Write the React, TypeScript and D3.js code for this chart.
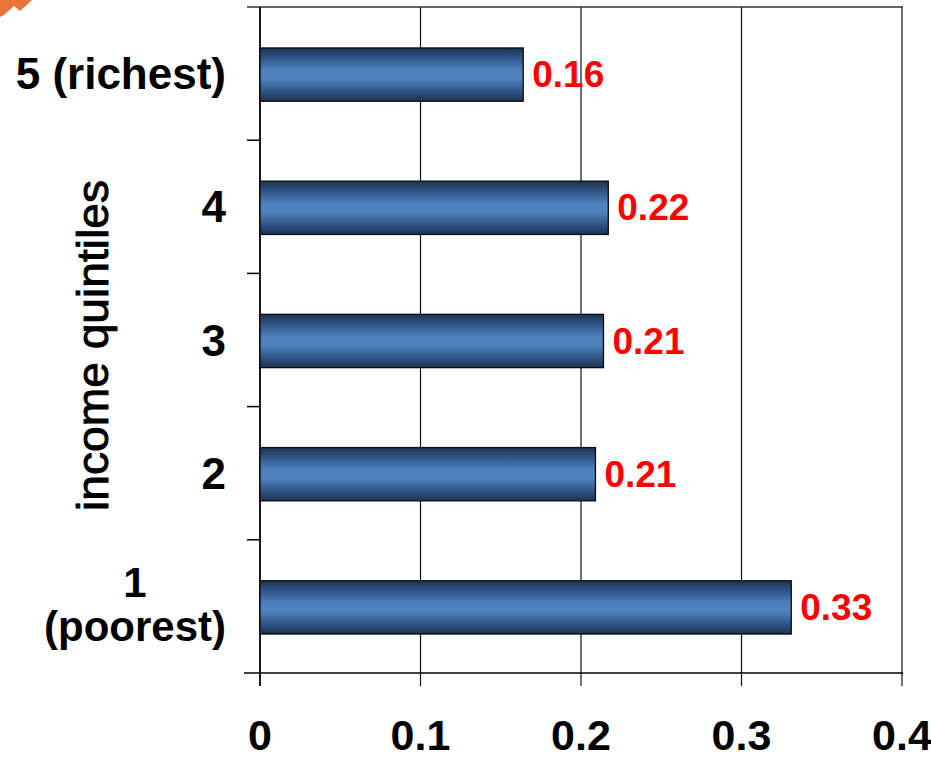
import React, { useEffect, useRef } from "react";
import * as d3 from "d3";

const categories = ["1\n(poorest)", "2", "3", "4", "5 (richest)"];
const values = [0.331, 0.209, 0.214, 0.217, 0.164];
const valueLabels = ["0.33", "0.21", "0.21", "0.22", "0.16"];
const xTicks = [0, 0.1, 0.2, 0.3, 0.4];
const xTickLabels = ["0", "0.1", "0.2", "0.3", "0.4"];
const yTitle = "income quintiles";

const W = 931;
const H = 760;
const FONT = "'Liberation Sans', Arial, sans-serif";

export default function App() {
  const ref = useRef<SVGSVGElement | null>(null);

  useEffect(() => {
    const svg = d3.select(ref.current);
    svg.selectAll("*").remove();

    const left = 260, right = 902, top = 7, bottom = 673;
    const x = d3.scaleLinear().domain([0, 0.4]).range([left, right]);
    const y = d3
      .scaleBand<string>()
      .domain([...categories].reverse())
      .range([top, bottom])
      .padding(0);

    const defs = svg.append("defs");
    const grad = defs
      .append("linearGradient")
      .attr("id", "barGrad")
      .attr("x1", 0).attr("y1", 0).attr("x2", 0).attr("y2", 1);
    [
      [0, "#1d3251"],
      [0.18, "#2f5485"],
      [0.42, "#4f81bd"],
      [0.58, "#4f81bd"],
      [0.82, "#2f5485"],
      [1, "#1d3251"],
    ].forEach(([o, c]) =>
      grad.append("stop").attr("offset", o as number).attr("stop-color", c as string)
    );

    // orange corner decoration
    svg
      .append("path")
      .attr("d", "M0,0 L32,0 L20,11 L14,6 L4,15 L0,17 Z")
      .attr("fill", "#e8743b");

    // gridlines (including right border)
    svg
      .append("g")
      .selectAll("line")
      .data(xTicks.slice(1))
      .join("line")
      .attr("x1", (d) => x(d))
      .attr("x2", (d) => x(d))
      .attr("y1", top)
      .attr("y2", bottom + 13)
      .attr("stroke", "#111")
      .attr("stroke-width", 1.2);

    // top border
    svg
      .append("line")
      .attr("x1", left - 13).attr("x2", right + 1)
      .attr("y1", top).attr("y2", top)
      .attr("stroke", "#333").attr("stroke-width", 1.5);

    // left axis
    svg
      .append("line")
      .attr("x1", left).attr("x2", left)
      .attr("y1", top).attr("y2", bottom + 13)
      .attr("stroke", "#000").attr("stroke-width", 1.8);
    const boundaries = [...categories].reverse().map((c) => y(c) as number).slice(1);
    svg
      .append("g")
      .selectAll("line")
      .data(boundaries)
      .join("line")
      .attr("x1", left - 13).attr("x2", left)
      .attr("y1", (d) => d).attr("y2", (d) => d)
      .attr("stroke", "#000").attr("stroke-width", 1.5);

    // bottom axis
    svg
      .append("line")
      .attr("x1", left - 16).attr("x2", right + 1)
      .attr("y1", bottom).attr("y2", bottom)
      .attr("stroke", "#000").attr("stroke-width", 1.5);

    // bars
    const bh = y.bandwidth() * 0.4;
    svg
      .append("g")
      .selectAll("rect")
      .data(categories)
      .join("rect")
      .attr("x", x(0))
      .attr("y", (d) => (y(d) as number) + y.bandwidth() / 2 - bh / 2 + 1)
      .attr("width", (d, i) => x(values[i]) - x(0))
      .attr("height", bh)
      .attr("fill", "url(#barGrad)")
      .attr("stroke", "#0a0a0a")
      .attr("stroke-width", 1.3);

    // value labels
    svg
      .append("g")
      .selectAll("text")
      .data(categories)
      .join("text")
      .attr("x", (d, i) => x(values[i]) + 9)
      .attr("y", (d) => (y(d) as number) + y.bandwidth() / 2 + 1)
      .attr("dominant-baseline", "central")
      .attr("font-family", FONT)
      .attr("font-weight", "bold")
      .attr("font-size", 37)
      .attr("fill", "#ff0000")
      .text((d, i) => valueLabels[i]);

    // x tick labels
    svg
      .append("g")
      .selectAll("text")
      .data(xTicks)
      .join("text")
      .attr("x", (d) => x(d))
      .attr("y", 735)
      .attr("text-anchor", "middle")
      .attr("dominant-baseline", "central")
      .attr("font-family", FONT)
      .attr("font-weight", "bold")
      .attr("font-size", 43)
      .attr("fill", "#000")
      .text((d, i) => xTickLabels[i]);

    // category labels
    const labelRight = 226;
    categories.forEach((c) => {
      const lines = c.split("\n");
      const cy = (y(c) as number) + y.bandwidth() / 2;
      const lh = 44;
      const g = svg.append("g");
      const texts = lines.map((ln, k) =>
        g
          .append("text")
          .attr("y", cy + (k - (lines.length - 1) / 2) * lh - (lines.length > 1 ? 2 : 0))
          .attr("dominant-baseline", "central")
          .attr("font-family", FONT)
          .attr("font-weight", "bold")
          .attr("font-size", lines.length > 1 ? 42 : 44)
          .attr("fill", "#000")
          .text(ln)
      );
      const widths = texts.map((t) => (t.node() as SVGTextElement).getComputedTextLength());
      const maxW = Math.max(...widths);
      texts.forEach((t) => {
        t.attr("text-anchor", "middle").attr("x", labelRight - maxW / 2);
      });
    });

    // y title
    svg
      .append("text")
      .attr("transform", `translate(92, ${(180 + 511) / 2}) rotate(-90)`)
      .attr("text-anchor", "middle")
      .attr("dominant-baseline", "central")
      .attr("font-family", FONT)
      .attr("font-size", 44)
      .attr("fill", "#000")
      .attr("stroke", "#000")
      .attr("stroke-width", 0.9)
      .attr("textLength", 331)
      .attr("lengthAdjust", "spacingAndGlyphs")
      .text(yTitle);
  }, []);

  return (
    <svg
      ref={ref}
      width={W}
      height={H}
      style={{ position: "absolute", left: 0, top: 0, background: "#fff" }}
    />
  );
}
